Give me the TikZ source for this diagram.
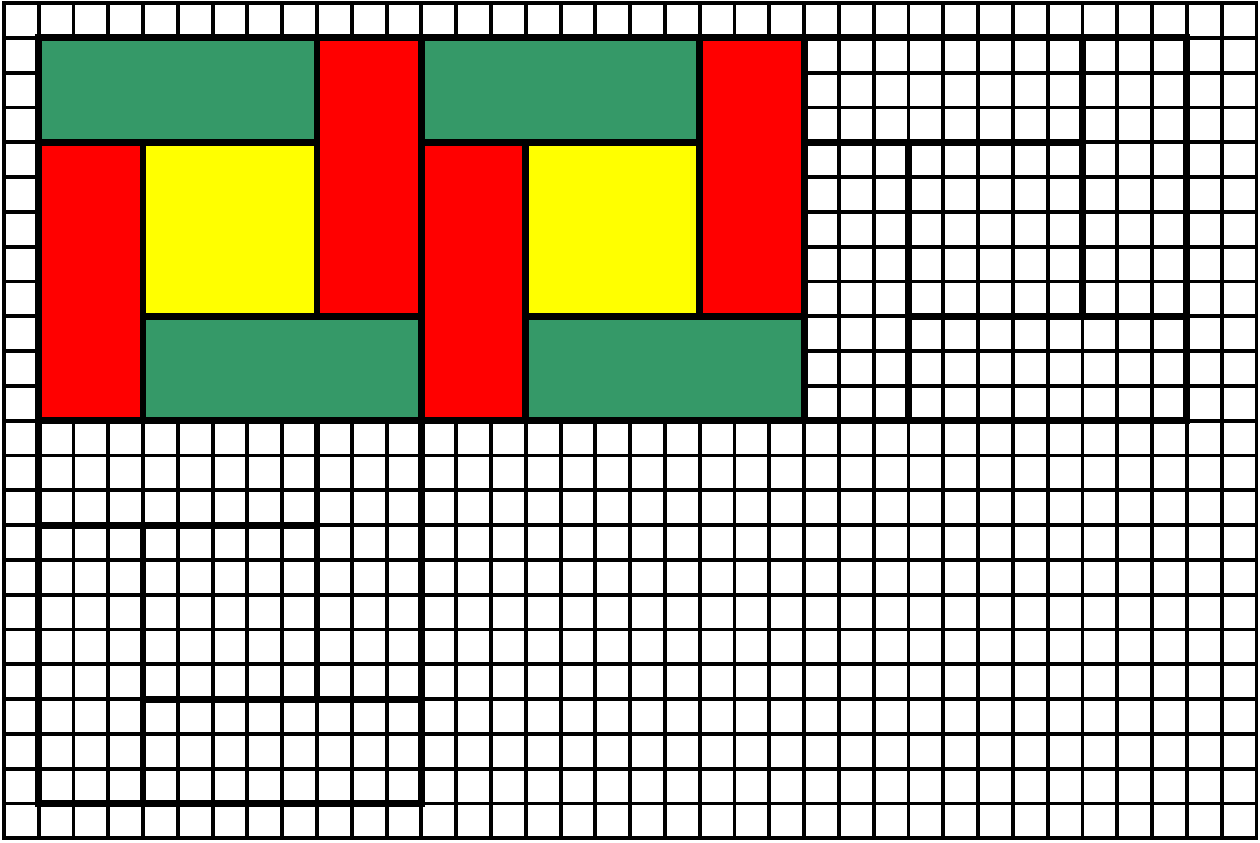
\documentclass[tikz,border=0pt]{standalone}
\definecolor{tgreen}{RGB}{53,153,104}
\definecolor{tred}{RGB}{255,0,0}
\definecolor{tyellow}{RGB}{255,255,0}
\begin{document}
\begin{tikzpicture}[x=1cm,y=-1cm,
  gridline/.style={line width=0.11cm,black},
  boldline/.style={line width=0.2cm,black,line cap=rect},
  greentile/.style={fill=tgreen,draw=black,line width=0.2cm},
  redtile/.style={fill=tred,draw=black,line width=0.2cm},
  yellowtile/.style={fill=tyellow,draw=black,line width=0.2cm}]
\useasboundingbox (-0.11,-0.09) rectangle (36.1,24.11);
% thin grid
\foreach \i in {1,...,35} {\draw[gridline] (\i,0) -- (\i,24);}
\foreach \j in {1,...,23} {\draw[gridline] (0,\j) -- (36,\j);}
\draw[gridline] (0,0) rectangle (36,24);
% pattern 1
\filldraw[greentile] (1,1) rectangle (9,4);
\filldraw[redtile] (9,1) rectangle (12,9);
\filldraw[redtile] (1,4) rectangle (4,12);
\filldraw[yellowtile] (4,4) rectangle (9,9);
\filldraw[greentile] (4,9) rectangle (12,12);
% pattern 2
\filldraw[greentile] (12,1) rectangle (20,4);
\filldraw[redtile] (20,1) rectangle (23,9);
\filldraw[redtile] (12,4) rectangle (15,12);
\filldraw[yellowtile] (15,4) rectangle (20,9);
\filldraw[greentile] (15,9) rectangle (23,12);
% pattern 3 (outline)
\draw[boldline] (23,4) -- (31,4);
\draw[boldline] (31,1) -- (31,9);
\draw[boldline] (26,4) -- (26,12);
\draw[boldline] (26,9) -- (34,9);
\draw[boldline] (1,1) rectangle (34,12);
% pattern 4 (outline)
\draw[boldline] (1,12) rectangle (12,23);
\draw[boldline] (1,15) -- (9,15);
\draw[boldline] (9,12) -- (9,20);
\draw[boldline] (4,15) -- (4,23);
\draw[boldline] (4,20) -- (12,20);
\end{tikzpicture}
\end{document}
